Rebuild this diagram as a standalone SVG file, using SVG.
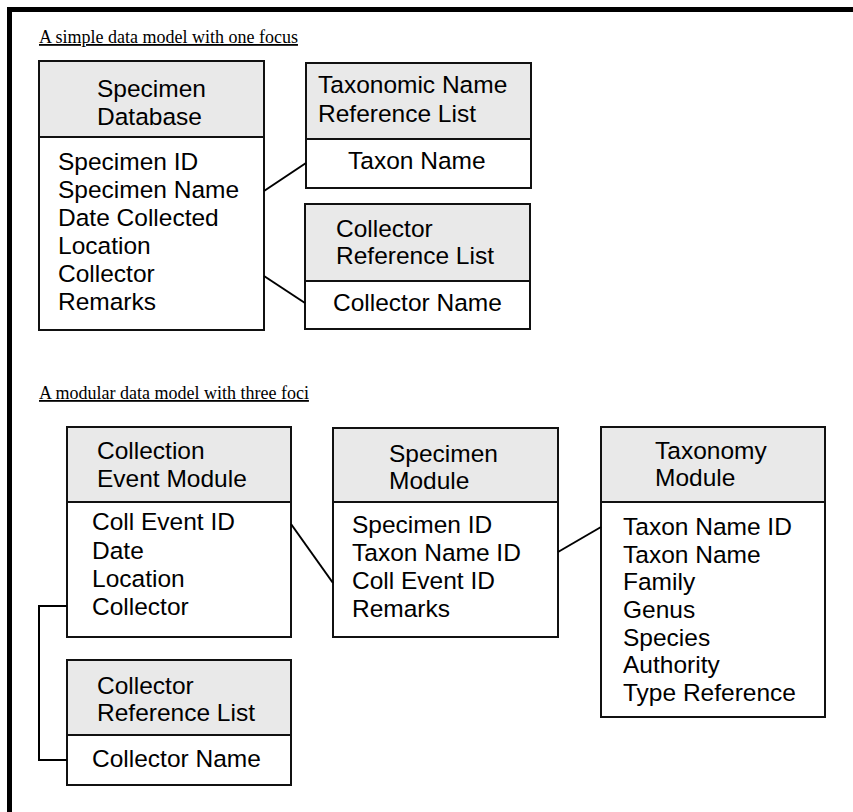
<svg xmlns="http://www.w3.org/2000/svg" width="853" height="812" viewBox="0 0 853 812">
  <style>
    .frame { fill: none; stroke: #000; stroke-width: 5; }
    .box { fill: #fff; stroke: #111; stroke-width: 2; }
    .head { fill: #e9e9e9; stroke: #111; stroke-width: 2; }
    .t { font-family: "Liberation Sans", Arial, sans-serif; font-size: 24.5px; fill: #000; }
    .cap { font-family: "Liberation Serif", "Times New Roman", serif; font-size: 18px; fill: #000; text-decoration: underline; }
    .link { fill: none; stroke: #000; stroke-width: 2; }
  </style>

  <!-- outer frame: top and left edges -->
  <path class="frame" d="M9.5,812 V9.5 H853"/>

  <text class="cap" x="39" y="43">A simple data model with one focus</text>
  <text class="cap" x="39" y="399">A modular data model with three foci</text>

  <g id="specimen-database">
    <rect class="box" x="39" y="61" width="225" height="269"/>
    <rect class="head" x="39" y="61" width="225" height="76"/>
    <text class="t" x="97" y="97">Specimen</text>
    <text class="t" x="97" y="125">Database</text>
    <text class="t" x="58" y="170">Specimen ID</text>
    <text class="t" x="58" y="198">Specimen Name</text>
    <text class="t" x="58" y="226">Date Collected</text>
    <text class="t" x="58" y="254">Location</text>
    <text class="t" x="58" y="282">Collector</text>
    <text class="t" x="58" y="310">Remarks</text>
  </g>

  <g id="taxonomic-name-list">
    <rect class="box" x="306" y="63" width="225" height="125"/>
    <rect class="head" x="306" y="63" width="225" height="76"/>
    <text class="t" x="318" y="93">Taxonomic Name</text>
    <text class="t" x="318" y="122">Reference List</text>
    <text class="t" x="348" y="169">Taxon Name</text>
  </g>

  <g id="collector-list-1">
    <rect class="box" x="305" y="204" width="225" height="125"/>
    <rect class="head" x="305" y="204" width="225" height="77"/>
    <text class="t" x="336" y="237">Collector</text>
    <text class="t" x="336" y="264">Reference List</text>
    <text class="t" x="333" y="311">Collector Name</text>
  </g>

  <g id="collection-event-module">
    <rect class="box" x="67" y="427" width="224" height="210"/>
    <rect class="head" x="67" y="427" width="224" height="75"/>
    <text class="t" x="97" y="459">Collection</text>
    <text class="t" x="97" y="487">Event Module</text>
    <text class="t" x="92" y="530">Coll Event ID</text>
    <text class="t" x="92" y="559">Date</text>
    <text class="t" x="92" y="587">Location</text>
    <text class="t" x="92" y="615">Collector</text>
  </g>

  <g id="collector-list-2">
    <rect class="box" x="67" y="660" width="224" height="125"/>
    <rect class="head" x="67" y="660" width="224" height="75"/>
    <text class="t" x="97" y="694">Collector</text>
    <text class="t" x="97" y="721">Reference List</text>
    <text class="t" x="92" y="767">Collector Name</text>
  </g>

  <g id="specimen-module">
    <rect class="box" x="333" y="428" width="225" height="209"/>
    <rect class="head" x="333" y="428" width="225" height="74"/>
    <text class="t" x="389" y="462">Specimen</text>
    <text class="t" x="389" y="489">Module</text>
    <text class="t" x="352" y="533">Specimen ID</text>
    <text class="t" x="352" y="561">Taxon Name ID</text>
    <text class="t" x="352" y="589">Coll Event ID</text>
    <text class="t" x="352" y="617">Remarks</text>
  </g>

  <g id="taxonomy-module">
    <rect class="box" x="601" y="427" width="224" height="290"/>
    <rect class="head" x="601" y="427" width="224" height="75"/>
    <text class="t" x="655" y="459">Taxonomy</text>
    <text class="t" x="655" y="486">Module</text>
    <text class="t" x="623" y="535">Taxon Name ID</text>
    <text class="t" x="623" y="563">Taxon Name</text>
    <text class="t" x="623" y="590">Family</text>
    <text class="t" x="623" y="618">Genus</text>
    <text class="t" x="623" y="646">Species</text>
    <text class="t" x="623" y="673">Authority</text>
    <text class="t" x="623" y="701">Type Reference</text>
  </g>

  <g id="connectors">
    <path class="link" d="M264,191 L306,163"/>
    <path class="link" d="M264,276 L305,303"/>
    <path class="link" d="M291,524 L333,583"/>
    <path class="link" d="M558,552 L601,527"/>
    <path class="link" d="M67,606 H39 V760 H67"/>
  </g>
</svg>
